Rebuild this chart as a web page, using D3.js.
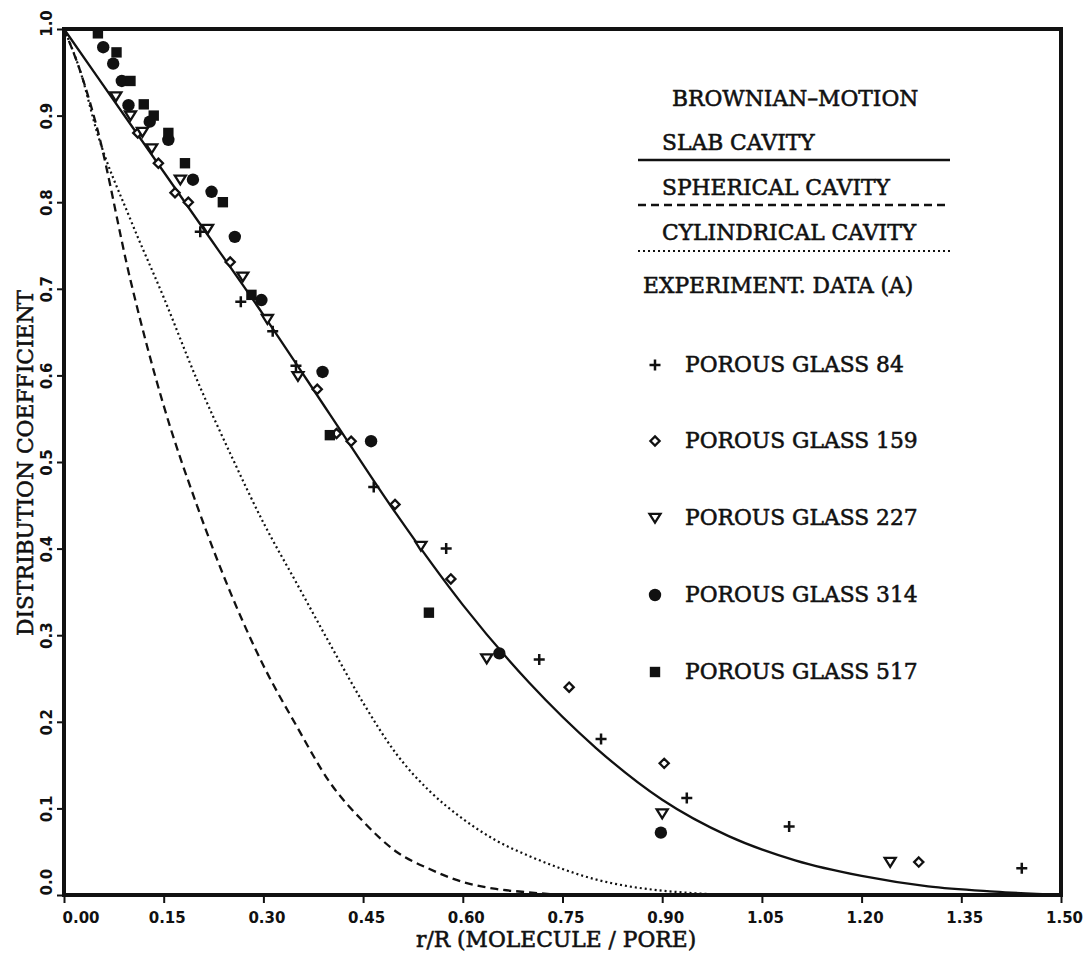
<!DOCTYPE html>
<html><head><meta charset="utf-8">
<script src="https://cdn.jsdelivr.net/npm/d3@7"></script>
<style>body{margin:0;background:#fff}svg{display:block}</style>
</head><body>
<svg id="chart" width="1087" height="955"></svg>
<script>
// ---- data ----
const xTicks = [0, 0.15, 0.30, 0.45, 0.60, 0.75, 0.90, 1.05, 1.20, 1.35, 1.50];
const yTicks = [0, 0.1, 0.2, 0.3, 0.4, 0.5, 0.6, 0.7, 0.8, 0.9, 1.0];

const slabX = [0, 0.1, 0.2, 0.3, 0.4, 0.5, 0.6, 0.7, 0.8, 0.9, 1.0, 1.1, 1.2, 1.3, 1.4, 1.5];
const slabY = [1.0, 0.89, 0.78, 0.67, 0.555, 0.44, 0.335, 0.245, 0.17, 0.11, 0.068, 0.04, 0.022, 0.01, 0.004, 0.0];

const sphX = [0, 0.025, 0.05, 0.1, 0.15, 0.2, 0.25, 0.3, 0.35, 0.4, 0.45, 0.5, 0.55, 0.6, 0.65, 0.7, 0.75];
const sphY = [1.0, 0.95, 0.885, 0.71, 0.565, 0.45, 0.35, 0.265, 0.195, 0.13, 0.085, 0.05, 0.03, 0.015, 0.007, 0.003, 0.0];

const cylX = [0, 0.025, 0.05, 0.1, 0.15, 0.2, 0.25, 0.3, 0.35, 0.4, 0.45, 0.5, 0.55, 0.6, 0.65, 0.7, 0.75, 0.8, 0.85, 0.9, 0.95, 1.0];
const cylY = [1.0, 0.95, 0.88, 0.78, 0.69, 0.595, 0.51, 0.43, 0.36, 0.29, 0.222, 0.163, 0.12, 0.088, 0.063, 0.045, 0.03, 0.018, 0.01, 0.005, 0.002, 0.0];

const pg84X = [0.205, 0.266, 0.314, 0.349, 0.466, 0.575, 0.715, 0.808, 0.937, 1.091, 1.441];
const pg84Y = [0.766, 0.685, 0.651, 0.611, 0.471, 0.400, 0.272, 0.180, 0.112, 0.079, 0.031];

const pg159X = [0.111, 0.142, 0.167, 0.187, 0.250, 0.381, 0.410, 0.432, 0.498, 0.582, 0.760, 0.903, 1.286];
const pg159Y = [0.880, 0.845, 0.811, 0.800, 0.731, 0.584, 0.533, 0.524, 0.451, 0.365, 0.240, 0.152, 0.038];

const pg227X = [0.078, 0.100, 0.118, 0.132, 0.175, 0.216, 0.269, 0.306, 0.352, 0.537, 0.636, 0.900, 1.243];
const pg227Y = [0.922, 0.900, 0.881, 0.862, 0.826, 0.769, 0.714, 0.665, 0.599, 0.403, 0.273, 0.094, 0.038];

const pg314X = [0.059, 0.074, 0.087, 0.097, 0.129, 0.157, 0.194, 0.222, 0.257, 0.297, 0.389, 0.462, 0.655, 0.898];
const pg314Y = [0.979, 0.960, 0.940, 0.912, 0.893, 0.872, 0.826, 0.812, 0.760, 0.687, 0.604, 0.524, 0.279, 0.072];

const pg517X = [0.051, 0.079, 0.100, 0.120, 0.135, 0.157, 0.182, 0.239, 0.282, 0.400, 0.549];
const pg517Y = [0.995, 0.973, 0.940, 0.913, 0.900, 0.880, 0.845, 0.800, 0.693, 0.531, 0.326];

const curveNames = ["SLAB CAVITY", "SPHERICAL CAVITY", "CYLINDRICAL CAVITY"];
const seriesNames = ["POROUS GLASS 84", "POROUS GLASS 159", "POROUS GLASS 227", "POROUS GLASS 314", "POROUS GLASS 517"];

// ---- layout ----
const svg = d3.select("#chart");
const L = 64, R = 1061, T = 29, B = 895;
const x = d3.scaleLinear().domain([0, 1.5]).range([L, R]);
const y = d3.scaleLinear().domain([0, 1]).range([B, T]);
const serif = "'DejaVu Serif', 'Liberation Serif', serif";
const sans = "'DejaVu Sans', 'Liberation Sans', sans-serif";
const ink = "#111";
const fs = 21.8;

svg.append("rect").attr("width", 1087).attr("height", 955).attr("fill", "#fff");

// curves
const zip = (xs, ys) => xs.map((v, i) => [v, ys[i]]);
const line = d3.line().x(d => x(d[0])).y(d => y(d[1])).curve(d3.curveMonotoneX);
const curveStyles = [
  {dash: null, w: 2.3},
  {dash: "8,5", w: 2.3},
  {dash: "2,3", w: 2.2}
];
[[slabX, slabY], [sphX, sphY], [cylX, cylY]].forEach((c, i) => {
  svg.append("path").datum(zip(c[0], c[1])).attr("d", line)
    .attr("fill", "none").attr("stroke", ink)
    .attr("stroke-width", curveStyles[i].w)
    .attr("stroke-dasharray", curveStyles[i].dash);
});

// markers
function markerPath(type, s) {
  if (type === 0) return `M${-s},0H${s}M0,${-s}V${s}`;
  if (type === 1) return `M0,${-s}L${s},0L0,${s}L${-s},0Z`;
  if (type === 2) return `M${-s},${-s * 0.75}H${s}L0,${s * 0.85}Z`;
  if (type === 3) return d3.arc()({innerRadius: 0, outerRadius: s, startAngle: 0, endAngle: 2 * Math.PI});
  return `M${-s},${-s}H${s}V${s}H${-s}Z`;
}
const mSize = [5.5, 4.6, 5.5, 6.2, 5.2];
function drawMarker(g, type, cx, cy) {
  const p = g.append("path").attr("d", markerPath(type, mSize[type]))
    .attr("transform", `translate(${cx},${cy})`);
  if (type === 0) p.attr("fill", "none").attr("stroke", ink).attr("stroke-width", 2.5);
  else if (type === 1 || type === 2) p.attr("fill", "#fff").attr("stroke", ink).attr("stroke-width", 2.3);
  else p.attr("fill", ink).attr("stroke", "none");
}
const series = [[pg84X, pg84Y], [pg159X, pg159Y], [pg227X, pg227Y], [pg314X, pg314Y], [pg517X, pg517Y]];
const gm = svg.append("g");
series.forEach((s, t) => {
  s[0].forEach((v, i) => drawMarker(gm, t, x(v), y(s[1][i])));
});

// frame
svg.append("rect").attr("x", L).attr("y", T).attr("width", R - L).attr("height", B - T)
  .attr("fill", "none").attr("stroke", ink).attr("stroke-width", 4);

// x axis
const gx = svg.append("g").attr("transform", `translate(0,${B})`)
  .call(d3.axisBottom(x).tickValues(xTicks).tickFormat(d3.format(".2f")).tickSize(8).tickPadding(9));
gx.select(".domain").remove();
gx.selectAll(".tick line").attr("stroke", ink).attr("stroke-width", 2);
gx.selectAll(".tick text").attr("font-family", sans).attr("font-weight", "bold")
  .attr("font-size", 15).attr("fill", ink).attr("dx", 3)
  .filter(d => d === 0).attr("text-anchor", "start").attr("dx", -2);

// y axis
const gy = svg.append("g").attr("transform", `translate(${L},0)`)
  .call(d3.axisLeft(y).tickValues(yTicks).tickFormat(d3.format(".1f")).tickSize(7));
gy.select(".domain").remove();
gy.selectAll(".tick line").attr("stroke", ink).attr("stroke-width", 2);
gy.selectAll(".tick text").attr("font-family", sans).attr("font-weight", "bold")
  .attr("font-size", 15).attr("fill", ink)
  .attr("x", null).attr("dy", null)
  .attr("text-anchor", d => d === 0 ? "start" : "middle")
  .attr("transform", d => `translate(-12,${d === 1 ? -6 : 0}) rotate(-90)`);

// axis titles
const textStroke = (s) => s.attr("stroke", ink).attr("stroke-width", 0.55);
svg.append("text").attr("x", 416).attr("y", 947).attr("font-family", serif).attr("font-size", fs)
  .attr("fill", ink).call(textStroke).text("r/R (MOLECULE / PORE)");
svg.append("text").attr("transform", `translate(33,463) rotate(-90)`).attr("text-anchor", "middle")
  .attr("font-family", serif).attr("font-size", fs).attr("fill", ink).call(textStroke)
  .text("DISTRIBUTION COEFFICIENT");

// legend
const lg = svg.append("g").attr("font-family", serif).attr("font-size", fs).attr("fill", ink);
const lt = lg.append("g").attr("stroke", ink).attr("stroke-width", 0.55);
lt.append("text").attr("x", 672).attr("y", 106).text("BROWNIAN–MOTION");
const curveRowsY = [150, 195, 240];
const lineRowsY = [160, 205, 251];
curveNames.forEach((n, i) => {
  lt.append("text").attr("x", 662).attr("y", curveRowsY[i]).text(n);
  lg.append("line").attr("x1", 638).attr("x2", 950).attr("y1", lineRowsY[i]).attr("y2", lineRowsY[i])
    .attr("stroke", ink).attr("stroke-width", curveStyles[i].w)
    .attr("stroke-dasharray", curveStyles[i].dash);
});
lt.append("text").attr("x", 643).attr("y", 293).text("EXPERIMENT. DATA (A)");
const serRowsY = [372, 448, 525, 602, 679];
seriesNames.forEach((n, i) => {
  drawMarker(lg, i, 655, serRowsY[i] - 7);
  lt.append("text").attr("x", 685).attr("y", serRowsY[i]).text(n);
});
</script>
</body></html>
